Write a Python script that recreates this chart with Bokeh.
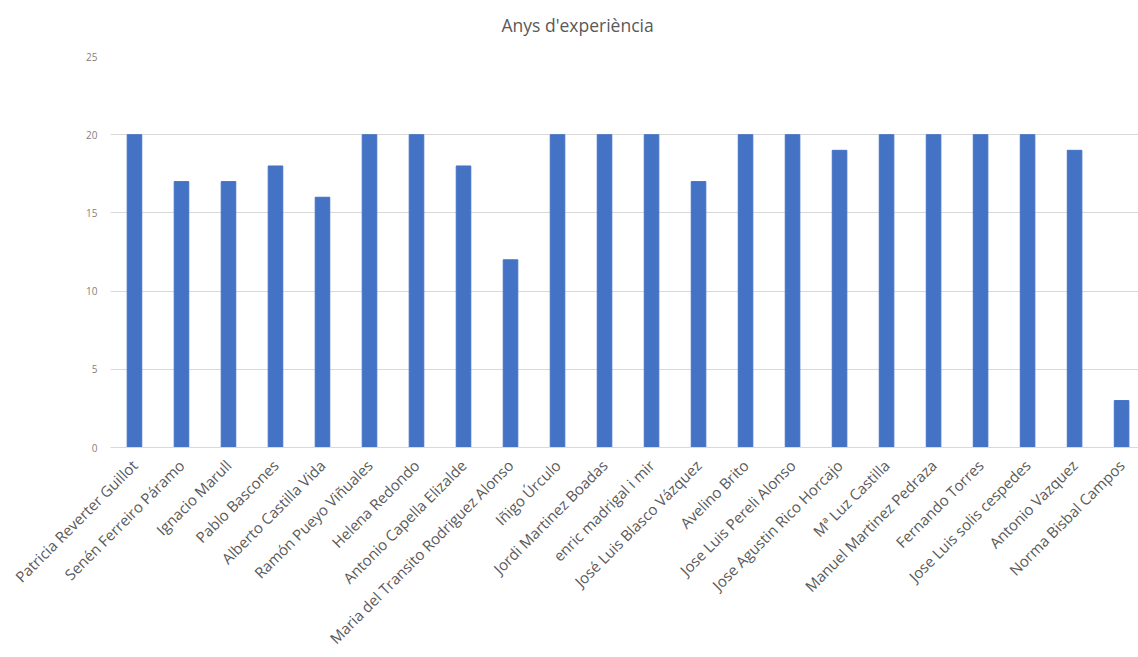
from bokeh.plotting import figure
from bokeh.embed import file_html
from bokeh.resources import INLINE
from bokeh.models import FixedTicker, Title
import math

names = ["Patricia Reverter Guillot", "Senén Ferreiro Páramo", "Ignacio Marull", "Pablo Bascones",
         "Alberto Castilla Vida", "Ramón Pueyo Viñuales", "Helena Redondo", "Antonio Capella Elizalde",
         "Maria del Transito Rodriguez Alonso", "Iñigo Úrculo", "Jordi Martinez Boadas", "enric madrigal i mir",
         "José Luis Blasco Vázquez", "Avelino Brito", "Jose Luis Pereli Alonso", "Jose Agustin Rico Horcajo",
         "Mª Luz Castilla", "Manuel Martinez Pedraza", "Fernando Torres", "Jose Luis solis cespedes",
         "Antonio Vazquez", "Norma Bisbal Campos"]
years = [20, 17, 17, 18, 16, 20, 20, 18, 12, 20, 20, 20, 17, 20, 20, 19, 20, 20, 20, 20, 19, 3]
y_ticks = [0, 5, 10, 15, 20, 25]
title_text = "Anys d'experiència"

xs = list(range(len(names)))

p = figure(width=1138, height=657, output_backend="svg", toolbar_location=None,
           x_range=(-0.51, 21.36), y_range=(0, 25),
           min_border_left=110, min_border_right=0, min_border_top=56, min_border_bottom=210)

spacer = Title(text=" ", text_font_size="1px", standoff=10)
main_title = Title(text=title_text, align="left", vertical_align="top", text_font="Open Sans",
                   text_font_size="17.5px", text_font_style="normal", text_color="#595959",
                   offset=391, standoff=10)
p.add_layout(spacer, "above")
p.add_layout(main_title, "above")

p.vbar(x=xs, top=years, width=0.31, fill_color="#4472C4", line_color="#4472C4")

p.outline_line_color = None
p.background_fill_color = "white"
p.border_fill_color = "white"

p.xaxis.ticker = FixedTicker(ticks=xs)
p.xaxis.major_label_overrides = {i: n for i, n in enumerate(names)}
p.xaxis.major_label_orientation = math.pi / 4
p.xaxis.major_label_text_font = "Open Sans"
p.xaxis.major_label_text_font_size = "15px"
p.xaxis.major_label_text_color = "#595959"
p.xaxis.axis_line_color = "#d9d9d9"
p.xaxis.major_tick_line_color = None
p.xaxis.minor_tick_line_color = None
p.xaxis.major_label_standoff = 9

p.yaxis.ticker = FixedTicker(ticks=y_ticks)
p.yaxis.major_label_text_font = "Open Sans"
p.yaxis.major_label_text_font_size = "10px"
p.yaxis.major_label_text_color = "#7f7f7f"
p.yaxis.axis_line_color = None
p.yaxis.major_tick_line_color = None
p.yaxis.minor_tick_line_color = None
p.yaxis.major_label_standoff = 7

p.xgrid.grid_line_color = None
p.ygrid.ticker = FixedTicker(ticks=y_ticks)
p.ygrid.grid_line_color = "#d9d9d9"

open("out.html", "w").write(file_html(p, INLINE))
